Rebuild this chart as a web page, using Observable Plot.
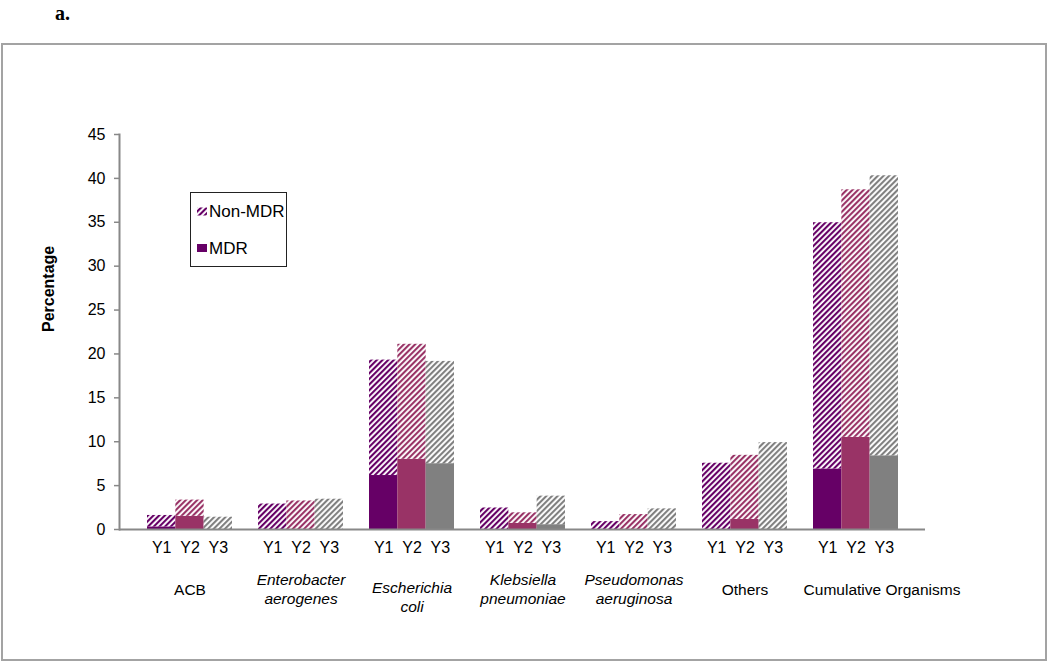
<!DOCTYPE html>
<html>
<head>
<meta charset="utf-8">
<script src="https://cdn.jsdelivr.net/npm/d3@7"></script>
<script src="https://cdn.jsdelivr.net/npm/@observablehq/plot@0.6"></script>
<style>
  html, body { margin: 0; padding: 0; background: #fff; overflow: hidden; }
  #wrap { position: relative; width: 1050px; height: 662px; }
  #panel { position: absolute; left: 55px; top: 2px; font-family: "Liberation Serif", "Times New Roman", serif; font-weight: bold; font-size: 20px; color: #000; }
  #border { position: absolute; left: 1px; top: 43px; width: 1042px; height: 614px; border: 2px solid #a3a3a3; pointer-events: none; }
  svg { position: absolute; left: 0; top: 0; }
</style>
</head>
<body>
<div id="wrap">
  <div id="chart"></div>
  <div id="panel">a.</div>
  <div id="border"></div>
</div>
<script>
const categories = ["ACB", "Enterobacter aerogenes", "Escherichia coli", "Klebsiella pneumoniae", "Pseudomonas aeruginosa", "Others", "Cumulative Organisms"];
const categoryLabels = ["ACB", "Enterobacter\naerogenes", "Escherichia\ncoli", "Klebsiella\npneumoniae", "Pseudomonas\naeruginosa", "Others", "Cumulative Organisms"];
const italicCategories = [false, true, true, true, true, false, false];
const years = ["Y1", "Y2", "Y3"];
// total percentage (MDR + Non-MDR) per category
const totalY1 = [1.6, 2.9, 19.3, 2.45, 0.9, 7.55, 34.95];
const totalY2 = [3.35, 3.25, 21.1, 1.9, 1.7, 8.45, 38.7];
const totalY3 = [1.4, 3.45, 19.15, 3.8, 2.35, 9.9, 40.3];
// MDR percentage per category
const mdrY1 = [0.3, 0, 6.15, 0, 0, 0, 6.9];
const mdrY2 = [1.5, 0, 8.0, 0.7, 0, 1.15, 10.5];
const mdrY3 = [0, 0, 7.5, 0.55, 0, 0, 8.4];
const yTicks = [0, 5, 10, 15, 20, 25, 30, 35, 40, 45];
const legendLabels = ["Non-MDR", "MDR"];
const yearColors = ["#660066", "#993366", "#808080"];

const totals = [totalY1, totalY2, totalY3];
const mdrs = [mdrY1, mdrY2, mdrY3];
const rows = [];
years.forEach((yr, i) => categories.forEach((c, j) => rows.push({cat: c, year: yr, yi: i, mdr: mdrs[i][j], total: totals[i][j]})));

const W = 1050, H = 662;
const mL = 119, mR = 125, mT = 134, mB = 133;
const padIn = 0.238, padOut = 0.233;
const step = (W - mL - mR) / (categories.length - padIn + 2 * padOut);
const bw = step * (1 - padIn);
const sub = bw / 3;

const font = "'Liberation Sans', Arial, sans-serif";
const marks = [];
years.forEach((yr, i) => {
  const data = rows.filter(d => d.yi === i);
  const ins = {insetLeft: i * sub, insetRight: (2 - i) * sub};
  marks.push(Plot.rectY(data, {x: "cat", y1: 0, y2: "mdr", fill: yearColors[i], ...ins}));
  marks.push(Plot.rectY(data, {x: "cat", y1: "mdr", y2: "total", fill: `url(#hatch${i})`, ...ins}));
  marks.push(Plot.text(categories, {x: d => d, text: () => yr, frameAnchor: "bottom", dy: 23, dx: (i - 1) * sub, fontSize: 16, fill: "#000"}));
});

const idx = categories.map((c, j) => j);
const normalIdx = idx.filter(j => !italicCategories[j] && j !== categories.length - 1);
const italicIdx = idx.filter(j => italicCategories[j] && categories[j] !== "Escherichia coli");
const coliIdx = idx.filter(j => categories[j] === "Escherichia coli");
const lastIdx = [categories.length - 1];

marks.push(Plot.text(normalIdx, {x: j => categories[j], text: j => categoryLabels[j], frameAnchor: "bottom", dy: 65, fontSize: 15.5, fill: "#000"}));
marks.push(Plot.text(lastIdx, {x: j => categories[j], text: j => categoryLabels[j], frameAnchor: "bottom", dy: 65, dx: 26, fontSize: 15.5, fill: "#000"}));
marks.push(Plot.text(italicIdx, {x: j => categories[j], text: j => categoryLabels[j], frameAnchor: "bottom", dy: 74, fontSize: 15.5, fontStyle: "italic", lineHeight: 1.2, fill: "#000"}));
marks.push(Plot.text(coliIdx, {x: j => categories[j], text: j => categoryLabels[j], frameAnchor: "bottom", dy: 82.5, fontSize: 15.5, fontStyle: "italic", lineHeight: 1.2, fill: "#000"}));

marks.push(Plot.axisY({ticks: yTicks, tickSize: 5, stroke: "#888", strokeWidth: 1.5, tickFormat: () => "", label: null}));
marks.push(Plot.axisY({ticks: yTicks, tickSize: 0, tickPadding: 14, fontSize: 16, fill: "#000", label: null}));
marks.push(Plot.frame({anchor: "left", stroke: "#888", strokeWidth: 2}));
marks.push(Plot.ruleY([0], {stroke: "#888", strokeWidth: 2}));
marks.push(Plot.text(["Percentage"], {frameAnchor: "left", rotate: -90, dx: -71, fontSize: 16, fontWeight: "bold", fill: "#000"}));

const svg = Plot.plot({
  width: W, height: H,
  marginLeft: mL, marginRight: mR, marginTop: mT, marginBottom: mB,
  style: {fontFamily: font, fontSize: "16px", color: "#000", background: "transparent"},
  x: {domain: categories, paddingInner: padIn, paddingOuter: padOut, axis: null},
  y: {domain: [0, 45], axis: null},
  marks
});

const s = d3.select(svg);
const defs = s.insert("defs", ":first-child");
yearColors.forEach((c, i) => {
  const p = defs.append("pattern").attr("id", `hatch${i}`).attr("patternUnits", "userSpaceOnUse")
    .attr("width", 4).attr("height", 4).attr("patternTransform", "rotate(45)");
  p.append("rect").attr("width", 4).attr("height", 4).attr("fill", "#fff");
  p.append("rect").attr("width", 2.1).attr("height", 4).attr("fill", c);
});

// legend box
const lg = s.append("g").attr("font-family", font).attr("font-size", 17).attr("text-anchor", "start");
lg.append("rect").attr("x", 190.5).attr("y", 192.5).attr("width", 96).attr("height", 74)
  .attr("fill", "#fff").attr("stroke", "#222").attr("stroke-width", 1);
const swatches = [`url(#hatch0)`, yearColors[0]];
legendLabels.forEach((t, k) => {
  const cy = k === 0 ? 211.5 : 248;
  lg.append("rect").attr("x", 197).attr("y", cy - 4).attr("width", 10).attr("height", 8).attr("fill", swatches[k]);
  lg.append("text").attr("x", 209).attr("y", cy).attr("dy", "0.35em").attr("fill", "#000").text(t);
});

document.getElementById("chart").appendChild(svg);
</script>
</body>
</html>
